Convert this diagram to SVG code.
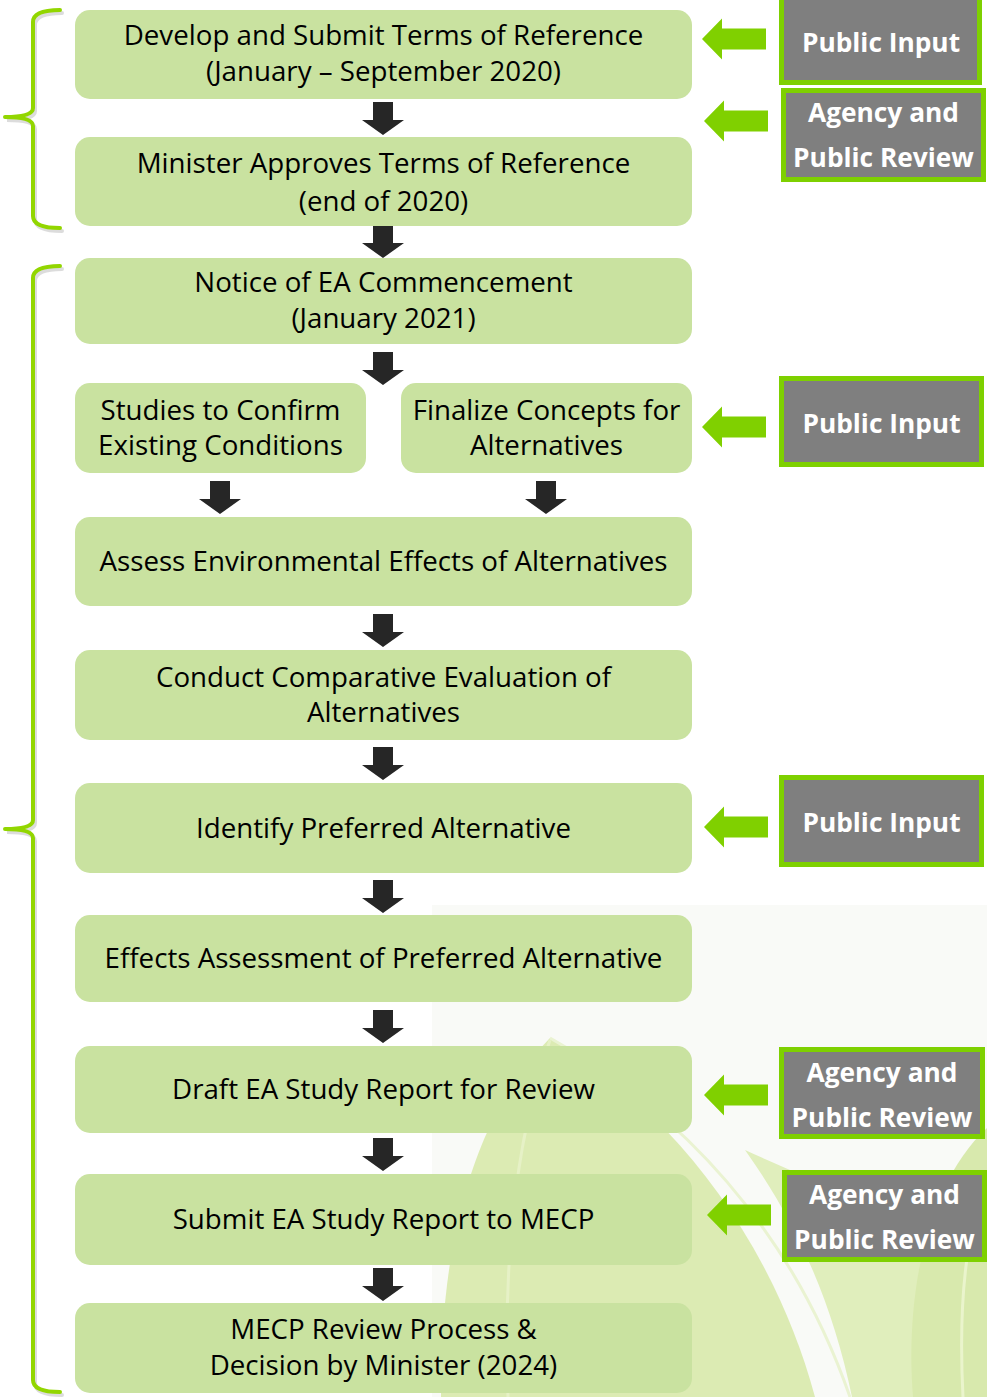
<svg xmlns="http://www.w3.org/2000/svg" width="987" height="1397" viewBox="0 0 987 1397">
<style>
.node rect{fill:#C9E2A0}
.node text{font-family:"Open Sans","Liberation Sans",sans-serif;font-size:27.7px;fill:#000;text-anchor:middle}
.inp rect{fill:#7F7F7F;stroke:#7ED000;stroke-width:5}
.inp text{font-family:"Open Sans","Liberation Sans",sans-serif;font-weight:bold;font-size:26.3px;fill:#fff;text-anchor:middle}
.brace{fill:none;stroke:#92D600;stroke-width:4;stroke-linecap:round;stroke-linejoin:round}
.braceShadow{fill:none;stroke:#9a9a9a;stroke-opacity:0.35;stroke-width:4;stroke-linecap:round}
.down{fill:#262626}
.left{fill:#80D000}
</style>
<defs>
<path id="dArrow" d="M -10,0 H 10 V 18 H 21 L 0,33 L -21,18 H -10 Z"/>
<path id="lArrow" d="M 0,0 L 20,-20.5 V -10.5 H 64 V 10.5 H 20 V 20.5 Z"/>
</defs>
<g id="background">
<rect x="432" y="905" width="555" height="492" fill="#F9FAF7"/>
<path d="M 441,1397 C 440,1250 470,1120 550,1038 C 660,1100 770,1230 815,1397 Z" fill="#DCEBB3"/>
<path d="M 745,1150 C 795,1220 832,1300 852,1397 L 987,1397 L 987,1250 C 900,1215 810,1180 745,1150 Z" fill="#E0EEBC"/>
<path d="M 913,1397 C 905,1300 925,1185 987,1128 L 987,1397 Z" fill="#D8E9AD"/>
<path d="M 550,1038 C 680,1110 792,1230 850,1397" fill="none" stroke="#EAF3D2" stroke-width="3"/>
<path d="M 508,1397 C 503,1260 515,1140 550,1040" fill="none" stroke="#E6F1C6" stroke-width="3"/>
<path d="M 963,1397 C 958,1300 966,1230 987,1180" fill="none" stroke="#EAF4CC" stroke-width="3"/>
</g>
<g id="braces">
<path class="braceShadow" transform="translate(2,3)" d="M 60,10 Q 33,10 33,22 L 33,108 Q 33,117 5,117 Q 33,117 33,126 L 33,216 Q 33,228 60,228"/>
<path class="brace" d="M 60,10 Q 33,10 33,22 L 33,108 Q 33,117 5,117 Q 33,117 33,126 L 33,216 Q 33,228 60,228"/>
<path class="braceShadow" transform="translate(2,3)" d="M 60,266 Q 33,266 33,278 L 33,820 Q 33,829 5,829 Q 33,829 33,838 L 33,1380 Q 33,1392 60,1392"/>
<path class="brace" d="M 60,266 Q 33,266 33,278 L 33,820 Q 33,829 5,829 Q 33,829 33,838 L 33,1380 Q 33,1392 60,1392"/>
</g>
<g id="connectors">
<use href="#dArrow" class="down" x="383" y="102"/>
<use href="#dArrow" class="down" x="383" y="225"/>
<use href="#dArrow" class="down" x="383" y="352"/>
<use href="#dArrow" class="down" x="220" y="481"/>
<use href="#dArrow" class="down" x="546" y="481"/>
<use href="#dArrow" class="down" x="383" y="614"/>
<use href="#dArrow" class="down" x="383" y="747"/>
<use href="#dArrow" class="down" x="383" y="880"/>
<use href="#dArrow" class="down" x="383" y="1010"/>
<use href="#dArrow" class="down" x="383" y="1138"/>
<use href="#dArrow" class="down" x="383" y="1268"/>
<use href="#lArrow" class="left" x="702" y="39"/>
<use href="#lArrow" class="left" x="704" y="121"/>
<use href="#lArrow" class="left" x="702" y="427"/>
<use href="#lArrow" class="left" x="704" y="827"/>
<use href="#lArrow" class="left" x="704" y="1095"/>
<use href="#lArrow" class="left" x="707" y="1215"/>
</g>
<g id="n1" class="node"><rect x="75" y="10" width="617" height="89" rx="15"/><text x="383.5" y="45">Develop and Submit Terms of Reference</text><text x="383.5" y="81">(January – September 2020)</text></g>
<g id="n2" class="node"><rect x="75" y="137" width="617" height="89" rx="15"/><text x="383.5" y="173">Minister Approves Terms of Reference</text><text x="383.5" y="211">(end of 2020)</text></g>
<g id="n3" class="node"><rect x="75" y="258" width="617" height="86" rx="15"/><text x="383.5" y="292">Notice of EA Commencement</text><text x="383.5" y="328">(January 2021)</text></g>
<g id="n4a" class="node"><rect x="75" y="383" width="291" height="90" rx="15"/><text x="220.5" y="420">Studies to Confirm</text><text x="220.5" y="455">Existing Conditions</text></g>
<g id="n4b" class="node"><rect x="401" y="383" width="291" height="90" rx="15"/><text x="546.5" y="420">Finalize Concepts for</text><text x="546.5" y="455">Alternatives</text></g>
<g id="n5" class="node"><rect x="75" y="517" width="617" height="89" rx="15"/><text x="383.5" y="571">Assess Environmental Effects of Alternatives</text></g>
<g id="n6" class="node"><rect x="75" y="650" width="617" height="90" rx="15"/><text x="383.5" y="687">Conduct Comparative Evaluation of</text><text x="383.5" y="722">Alternatives</text></g>
<g id="n7" class="node"><rect x="75" y="783" width="617" height="90" rx="15"/><text x="383.5" y="838">Identify Preferred Alternative</text></g>
<g id="n8" class="node"><rect x="75" y="915" width="617" height="87" rx="15"/><text x="383.5" y="968">Effects Assessment of Preferred Alternative</text></g>
<g id="n9" class="node"><rect x="75" y="1046" width="617" height="87" rx="15"/><text x="383.5" y="1099">Draft EA Study Report for Review</text></g>
<g id="n10" class="node"><rect x="75" y="1174" width="617" height="91" rx="15"/><text x="383.5" y="1229">Submit EA Study Report to MECP</text></g>
<g id="n11" class="node"><rect x="75" y="1303" width="617" height="90" rx="15"/><text x="383.5" y="1339">MECP Review Process &amp;</text><text x="383.5" y="1375">Decision by Minister (2024)</text></g>
<g id="in1" class="inp"><rect x="781.5" y="-2.5" width="198" height="85"/><text x="881" y="52">Public Input</text></g>
<g id="in2" class="inp"><rect x="783.5" y="90.5" width="200" height="89"/><text x="883.5" y="122">Agency and</text><text x="883.5" y="167">Public Review</text></g>
<g id="in3" class="inp"><rect x="781.5" y="378.5" width="200" height="86"/><text x="881.5" y="433">Public Input</text></g>
<g id="in4" class="inp"><rect x="781.5" y="777.5" width="200" height="87"/><text x="881.5" y="832">Public Input</text></g>
<g id="in5" class="inp"><rect x="781.5" y="1049.5" width="201" height="87"/><text x="882" y="1082">Agency and</text><text x="882" y="1127">Public Review</text></g>
<g id="in6" class="inp"><rect x="784.5" y="1172.5" width="200" height="87"/><text x="884.5" y="1204">Agency and</text><text x="884.5" y="1249">Public Review</text></g>
</svg>
